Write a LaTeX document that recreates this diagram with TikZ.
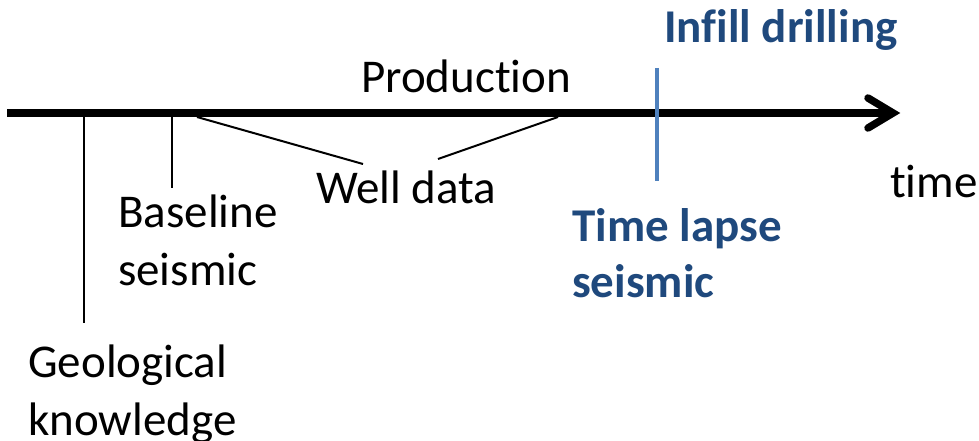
\documentclass[tikz,border=0pt]{standalone}
\usepackage{fontspec}
\setmainfont{Carlito}[Ligatures={NoCommon}]
\definecolor{txtblue}{HTML}{1F497D}
\definecolor{lineblue}{HTML}{4F81BD}
\begin{document}
\begin{tikzpicture}[x=1pt,y=-1pt,
  lbl/.style={anchor=base west,inner sep=0pt,align=left,font=\fontsize{47}{58}\selectfont},
  bluelbl/.style={lbl,text=txtblue,font=\fontsize{47}{56}\selectfont\bfseries},
  thin/.style={line width=2pt},
  axisline/.style={line width=7.5pt}]
\useasboundingbox (0,0) rectangle (979,441);
% axis
\coordinate (a0) at (7,113);
\coordinate (a1) at (893,113);
\coordinate (h1) at (868,98);
\coordinate (h2) at (868,128);
\draw[axisline] (a0) -- (a1);
\draw[axisline,line cap=round,line join=miter] (h1) -- (a1) -- (h2);
% labels (base anchor = baseline of last line)
\node[lbl] (prod) at (361,93) {Production};
\node[lbl] (time) at (890,197) {time};
\node[lbl] (well) at (316,203) {Well data};
\node[lbl] (base) at (118,285) {Baseline\\seismic};
\node[lbl] (geo) at (28,435) {Geological\\knowledge};
\node[bluelbl] (infill) at (664,43) {Infill drilling};
\node[bluelbl] (lapse) at (572,297) {Time lapse\\seismic};
% connectors
\coordinate (g0) at (84,113);
\coordinate (g1) at (84,323);
\coordinate (b0) at (172,113);
\coordinate (b1) at (172,188);
\coordinate (w0) at (197,117);
\coordinate (w1) at (363,164);
\coordinate (w2) at (558,117);
\coordinate (w3) at (438,159);
\coordinate (t0) at (657,68);
\coordinate (t1) at (657,181);
\draw[line width=2.3pt] (g0) -- (g1);
\draw[line width=1.6pt] (b0) -- (b1);
\draw[thin] (w0) -- (w1);
\draw[thin] (w2) -- (w3);
\draw[line width=4.5pt,lineblue] (t0) -- (t1);
\end{tikzpicture}
\end{document}
